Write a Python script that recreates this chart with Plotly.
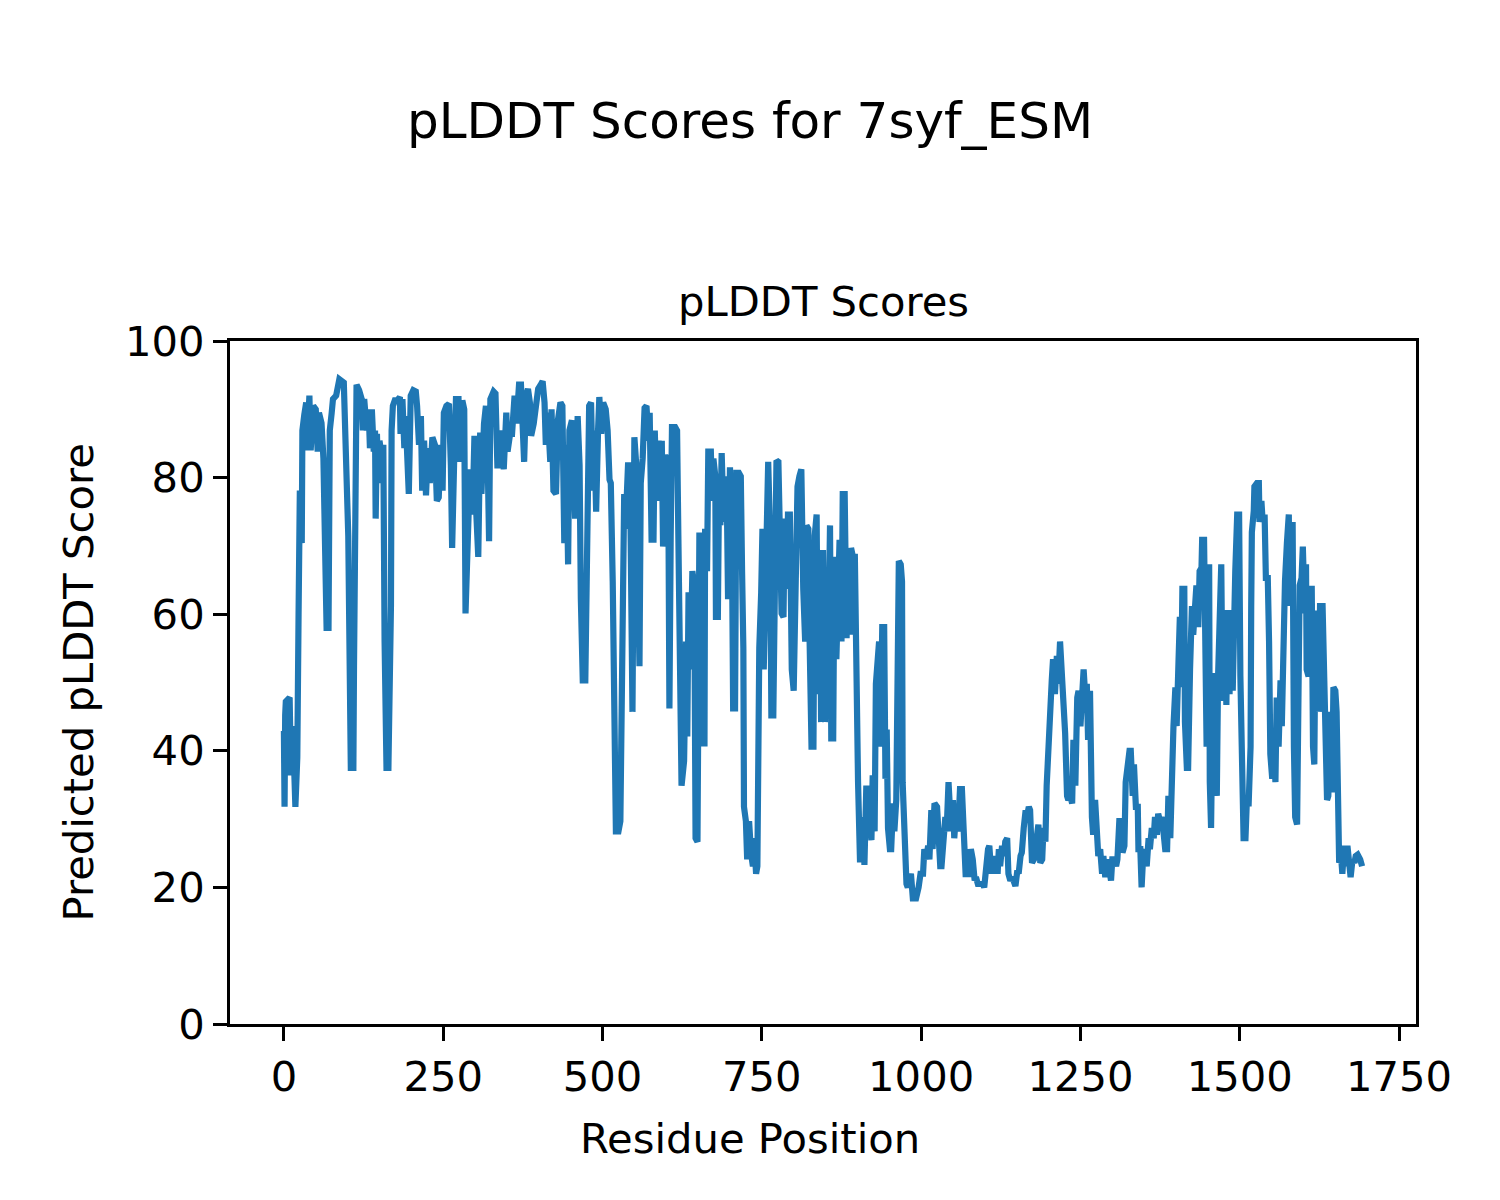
import plotly.graph_objects as go

# Residue positions (vertices) and pLDDT scores
residue = [
    0, 1, 2, 3, 9, 11, 14, 18, 21, 23, 25, 28, 29, 32, 35, 36, 40, 42, 46, 50,
    53, 55, 59, 62, 64, 67, 70, 72, 75, 77, 82, 84, 87, 94, 95, 97, 101, 105, 109, 110,
    112, 114, 118, 122, 124, 126, 130, 133, 135, 138, 141, 143, 144, 146, 148, 150, 154, 156, 158, 161,
    164, 168, 169, 171, 174, 178, 182, 183, 186, 189, 191, 194, 196, 199, 203,
    207, 209, 212, 215, 217, 220, 223, 226, 229, 233, 237, 240, 243, 246, 249, 251, 255, 259, 262, 264,
    267, 270, 274, 276, 280, 283, 285, 288, 292, 296, 299, 302, 305, 308, 310, 314, 317, 319, 322, 324,
    329, 332, 335, 339, 342, 345, 349, 351, 355, 358, 362, 365, 369, 372, 375, 377, 380, 383, 386, 388,
    392, 396, 399, 403, 406, 409, 411, 414,
    418, 420, 423, 427, 430, 434, 437, 440, 443, 446, 448, 452, 454, 457, 461, 464, 466, 469, 473, 475,
    477, 479, 482, 485, 487, 490, 493, 495, 498, 501, 505, 508, 511, 513, 516, 519, 521, 525, 528, 530,
    532, 534, 536, 540, 543, 545, 547, 550, 553, 555, 558, 560, 563, 566, 569, 572, 574, 577, 580, 582,
    585, 588, 590, 593, 595, 598, 601, 603, 605, 607, 609, 614, 617, 619, 621, 624,
    628, 631, 633, 635, 638, 641, 644, 646, 649, 650, 652, 655, 657, 660, 661, 664, 666, 670, 672, 674,
    677, 678, 681, 683, 685, 687, 690, 692, 695, 697, 700, 703, 705, 708, 710, 714, 717, 719, 721, 722,
    725, 727, 730, 733, 736, 738, 741, 743, 744, 746, 749, 751, 753, 755, 757, 760, 763, 765, 768, 771,
    773, 776, 778, 781, 784, 786, 789, 791, 794, 797, 800, 803, 806, 809, 812, 815, 818, 820, 823, 825,
    828, 831, 833, 836, 838,
    841, 843, 846, 849, 851, 854, 857, 859, 862, 864, 867, 870, 872, 875, 877, 880, 883, 885, 888, 890,
    893, 896, 898, 901, 904, 906, 909, 911, 914, 917, 919, 922, 924, 927, 929, 931, 934, 936, 939, 942,
    944, 946, 948, 951, 953, 956, 958, 961, 963, 965, 968, 970, 971, 974, 977, 979, 982, 984, 987, 992,
    996, 999, 1003, 1005, 1008, 1011, 1013, 1016, 1018, 1021, 1025, 1027, 1030, 1032, 1035, 1038, 1040, 1043,
    1047, 1050, 1052, 1055, 1058, 1061, 1064, 1067, 1070, 1073, 1076, 1078, 1081, 1084, 1086, 1089, 1093, 1097, 1099, 1102,
    1105, 1107, 1110, 1112, 1115, 1118, 1120, 1122, 1124, 1127, 1130, 1132, 1135, 1137, 1140, 1143, 1145, 1148, 1151, 1153,
    1156, 1158, 1161, 1164, 1166, 1169, 1171, 1174, 1177, 1179, 1182, 1184, 1187, 1190, 1192, 1195, 1197, 1200, 1202, 1205,
    1207, 1210, 1213, 1215, 1218, 1221, 1224, 1226, 1229, 1231, 1234, 1237, 1239, 1242, 1245, 1247, 1250, 1252, 1255, 1258,
    1260, 1262, 1265, 1268, 1270, 1273, 1275, 1278, 1281, 1284, 1286, 1289, 1293, 1296, 1298, 1300, 1303, 1306, 1308, 1311,
    1313, 1316, 1319, 1321, 1324, 1327, 1329, 1332, 1334, 1337, 1340, 1341, 1344, 1346, 1349, 1352, 1354, 1357, 1359, 1362,
    1365, 1367, 1370, 1372, 1375, 1378, 1380, 1383, 1386, 1388, 1391, 1393, 1396, 1399, 1401, 1404, 1406, 1408, 1410, 1413,
    1414, 1417, 1419, 1422, 1425, 1427, 1430, 1432, 1435, 1437, 1440, 1441, 1444, 1446, 1448, 1450, 1452, 1453, 1455, 1458,
    1460, 1461, 1464, 1466, 1469, 1471,
    1473, 1476, 1479, 1481, 1484, 1486, 1489, 1491, 1493, 1496, 1499, 1501, 1504, 1506, 1509, 1511, 1514, 1517, 1518, 1519,
    1522, 1523, 1527, 1530, 1531, 1534, 1536, 1539, 1541, 1544, 1546, 1548, 1551, 1553, 1556, 1558, 1561, 1564, 1566, 1568,
    1570, 1571, 1574, 1577, 1578, 1581, 1583, 1585, 1587, 1590, 1592, 1594, 1597, 1599, 1602, 1604, 1605, 1608, 1611, 1613,
    1615, 1617, 1619, 1623, 1624, 1626, 1630, 1632, 1634, 1637, 1639, 1642, 1645, 1647, 1650, 1652, 1654, 1656, 1659, 1661,
    1664, 1666, 1669, 1672, 1674, 1677, 1680, 1682, 1685, 1689, 1692,
]

plddt = [
    42.9, 31.8, 45.2, 47.2, 47.8, 36.4, 43.6, 31.8, 39.0, 60.0, 78.1, 70.4, 86.9, 89.2, 91.0, 84.0, 92.0, 84.0, 90.5, 90.0,
    83.8, 89.5, 88.0, 82.8, 66.3, 58.0, 58.0, 86.9, 89.5, 91.5, 92.0, 93.6, 94.4, 93.9, 89.5, 84.3, 71.5, 37.5, 37.5, 52.4,
    90.5, 93.6, 92.8, 91.5, 86.9, 91.5, 86.9, 90.0, 84.3, 90.0, 83.8, 86.9, 74.0, 86.4, 79.2, 85.4, 82.8, 84.8, 56.0, 37.5,
    37.5, 61.2, 86.9, 90.5, 91.3, 91.3, 91.8, 86.4, 91.5, 84.3, 89.0, 78.1, 77.6, 92.0, 92.8,
    92.6, 90.5, 84.8, 89.0, 78.1, 85.4, 77.4, 84.3, 79.2, 85.9, 84.8, 76.6, 77.1, 84.8, 78.1, 89.5, 90.5, 90.8, 81.8, 69.7,
    81.8, 91.5, 91.5, 82.3, 91.3, 90.0, 60.1, 67.3, 81.2, 74.6, 86.1, 74.6, 68.4, 86.6, 77.6, 87.9, 90.5, 86.9, 70.7, 91.5,
    92.6, 92.3, 81.8, 81.8, 86.9, 81.2, 89.5, 83.8, 86.4, 86.4, 92.0, 87.9, 93.6, 93.6, 87.9, 82.3, 92.0, 93.0, 91.0, 86.1,
    87.9, 92.0, 93.0, 93.6, 94.1, 91.0, 84.8, 89.5,
    82.3, 90.0, 78.1, 77.6, 88.4, 91.0, 90.5, 70.4, 84.8, 67.3, 86.9, 88.4, 79.2, 74.0, 89.0, 81.8, 62.2, 50.3, 50.3, 64.2,
    80.7, 90.5, 91.0, 78.1, 86.9, 75.0, 86.9, 91.8, 86.4, 91.0, 90.0, 86.9, 79.7, 79.2, 64.8, 45.7, 28.2, 28.2, 29.7, 45.7,
    63.2, 77.6, 72.5, 81.8, 81.8, 45.7, 45.7, 85.9, 81.8, 68.9, 52.4, 79.2, 82.8, 90.2, 90.5, 85.4, 89.5, 70.9, 70.9, 86.9,
    76.6, 85.4, 80.2, 85.4, 69.9, 83.3, 82.3, 83.3, 46.2, 71.5, 87.4, 87.4, 86.9, 71.5, 44.7, 34.9,
    38.5, 56.0, 42.1, 63.2, 51.9, 66.3, 64.2, 27.2, 26.7, 56.0, 71.5, 71.5, 41.1, 41.1, 72.5, 66.3, 83.8, 83.8, 76.6, 82.8,
    80.2, 59.6, 59.6, 80.2, 73.0, 83.6, 73.5, 80.2, 77.6, 62.2, 81.5, 71.5, 46.2, 46.2, 80.7, 80.7, 80.2, 66.3, 55.0, 31.8,
    29.7, 24.1, 29.7, 25.1, 23.1, 27.2, 22.0, 23.1, 40.6, 55.0, 63.2, 72.5, 51.9, 62.2, 71.5, 82.3, 71.5, 45.2, 45.2, 74.6,
    82.5, 82.3, 74.6, 60.1, 59.6, 74.0, 63.7, 74.6, 74.6, 51.9, 48.8, 66.3, 78.7, 80.2, 81.2, 63.7, 56.0, 73.0, 72.5, 56.0,
    40.6, 40.6, 71.5, 74.6, 48.3,
    69.4, 44.2, 69.4, 44.2, 66.3, 53.4, 73.0, 41.8, 41.8, 68.4, 53.4, 66.3, 70.9, 56.0, 77.6, 77.6, 56.5, 65.3, 57.0, 69.7,
    68.4, 68.4, 49.8, 35.4, 24.1, 24.1, 30.3, 23.3, 34.9, 27.2, 32.8, 26.9, 36.4, 28.2, 49.8, 54.5, 56.0, 40.6, 58.1, 58.1,
    35.9, 43.1, 28.7, 25.6, 25.6, 32.3, 28.2, 32.8, 50.9, 67.8, 67.3, 64.8, 35.4, 24.1, 20.5, 20.0, 21.0, 22.0, 18.4, 18.4,
    20.0, 22.0, 22.0, 25.6, 24.1, 26.1, 24.1, 31.3, 25.6, 32.3, 31.8, 27.2, 23.1, 23.1, 27.2, 30.3, 28.2, 35.4,
    28.2, 32.8, 27.2, 31.3, 28.2, 34.4, 34.4, 27.2, 21.5, 25.6, 21.5, 25.6, 24.1, 21.0, 21.5, 20.5, 20.5, 20.5, 20.0, 24.1,
    25.6, 26.1, 22.0, 24.6, 22.0, 24.6, 22.0, 25.6, 23.1, 26.1, 24.6, 26.7, 27.2, 22.0, 21.0, 21.5, 20.5, 20.2, 22.5, 22.0,
    24.6, 25.1, 28.7, 31.3, 30.3, 31.8, 31.3, 23.6, 24.1, 26.1, 28.2, 29.2, 23.6, 24.1, 28.7, 26.7, 34.9, 42.1, 47.8, 50.3,
    53.4, 48.3, 53.9, 49.8, 56.0, 51.4, 47.8, 42.6, 33.4, 32.8, 33.4, 32.3, 41.6, 34.9, 47.8, 48.8, 43.6, 48.8, 51.9, 47.3,
    49.8, 41.6, 48.8, 30.3, 27.7, 32.8, 28.7, 24.6, 25.6, 22.0, 24.6, 21.5, 24.1, 22.0, 21.0, 24.1, 24.1, 23.1, 24.1, 29.7,
    29.7, 25.1, 26.1, 35.4, 39.0, 40.0, 40.0, 33.4, 38.0, 31.8, 31.8, 25.6, 25.6, 20.0, 25.6, 24.6, 23.1, 27.2, 25.6, 28.7,
    27.2, 30.3, 27.7, 30.8, 29.7, 30.3, 27.2, 25.6, 25.6, 33.4, 27.2, 39.0, 43.6, 49.3, 43.6, 53.4, 59.6, 49.3, 63.7, 63.7,
    44.2, 37.5, 37.5, 51.9, 61.2, 57.0, 63.2, 64.2, 58.1, 66.3, 66.8, 70.9, 70.9, 50.9, 40.6, 60.1, 67.3, 35.4, 28.7, 50.9,
    40.6, 51.4, 33.4, 50.9, 61.2, 67.3,
    47.3, 60.6, 46.7, 60.6, 48.3, 60.6, 48.8, 63.2, 66.3, 74.6, 74.6, 50.9, 35.4, 27.2, 27.2, 32.3, 32.3, 40.6, 61.2, 72.0,
    75.1, 78.7, 79.2, 79.2, 73.5, 76.6, 73.5, 74.6, 65.3, 65.3, 56.0, 39.5, 35.9, 42.6, 35.4, 47.8, 40.6, 50.3, 43.6, 55.5,
    55.0, 64.8, 70.4, 74.6, 61.2, 73.5, 73.5, 40.6, 30.3, 29.2, 45.7, 64.2, 65.3, 69.9, 60.1, 67.3, 51.9, 50.9, 63.7, 63.7,
    40.6, 38.0, 60.1, 60.1, 45.7, 61.2, 61.2, 53.4, 47.8, 32.8, 33.4, 45.7, 33.9, 49.3, 48.8, 45.7, 28.7, 23.6, 24.6, 22.0,
    26.1, 23.1, 26.1, 22.0, 21.5, 24.1, 23.6, 24.6, 24.8, 24.1, 23.1,
]

x_ticks = [0, 250, 500, 750, 1000, 1250, 1500, 1750]
y_ticks = [0, 20, 40, 60, 80, 100]

FONT = "DejaVu Sans"
L, R, T, B = 230, 84, 341, 176
W, H = 1500, 1200
pw, ph = W - L - R, H - T - B

n = max(residue)
pad = 0.05 * n
xr = [min(residue) - pad, n + pad]

fig = go.Figure()
fig.add_trace(go.Scatter(
    x=residue, y=plddt, mode="lines",
    line=dict(color="#1f77b4", width=6.2),
    hoverinfo="x+y", showlegend=False,
))

axis_common = dict(
    showline=True, linecolor="black", linewidth=3, mirror=True,
    ticks="outside", ticklen=14, tickwidth=3, tickcolor="black",
    showgrid=False, zeroline=False,
    tickfont=dict(family=FONT, size=41.7, color="black"),
)

fig.update_xaxes(range=xr, tickvals=x_ticks, ticktext=[str(v) for v in x_ticks], **axis_common)
fig.update_yaxes(range=[0, 100], tickvals=y_ticks, ticktext=[str(v) for v in y_ticks], **axis_common)

fig.update_layout(
    width=W, height=H,
    margin=dict(l=L, r=R, t=T, b=B, autoexpand=False),
    paper_bgcolor="white", plot_bgcolor="white",
    title=dict(text="pLDDT Scores for 7syf_ESM", x=0.5, xref="container", xanchor="center",
               y=1 - 120 / H, yref="container", yanchor="middle",
               font=dict(family=FONT, size=50, color="black")),
    annotations=[
        dict(text="pLDDT Scores", xref="paper", yref="paper", x=0.5, y=1 + (341 - 302) / ph,
             xanchor="center", yanchor="middle", showarrow=False,
             font=dict(family=FONT, size=41.7, color="black")),
        dict(text="Residue Position", xref="paper", yref="paper", x=(750 - L) / pw, y=-(1138 - 1024) / ph,
             xanchor="center", yanchor="middle", showarrow=False,
             font=dict(family=FONT, size=41.7, color="black")),
        dict(text="Predicted pLDDT Score", xref="paper", yref="paper", x=-(L - 78) / pw, y=0.5,
             xanchor="center", yanchor="middle", textangle=-90, showarrow=False,
             font=dict(family=FONT, size=41.7, color="black")),
    ],
)

fig.write_html(
    "out.html",
    config={"displayModeBar": False},
    post_script="document.body.style.margin='0px';document.body.style.padding='0px';",
)
